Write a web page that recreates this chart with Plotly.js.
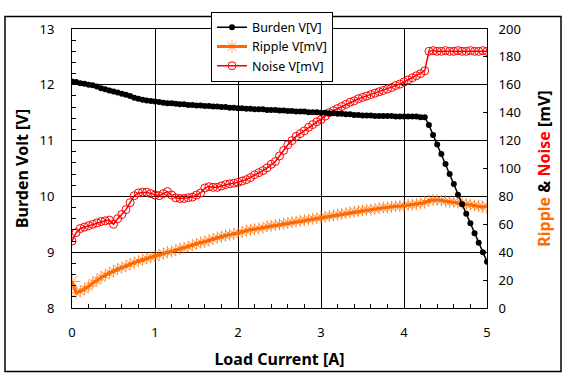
<!DOCTYPE html>
<html>
<head>
<meta charset="utf-8">
<script src="https://cdn.plot.ly/plotly-3.0.1.min.js"></script>
<style>
html,body{margin:0;padding:0;background:#fff;}
#chart{width:568px;height:380px;}
</style>
</head>
<body>
<div id="chart"></div>
<script>
// Load current [A]
const current = [
 0.00,0.05,0.10,0.15,0.20,0.25,0.30,0.35,0.40,0.45,
 0.50,0.55,0.60,0.65,0.70,0.75,0.80,0.85,0.90,0.95,
 1.00,1.05,1.10,1.15,1.20,1.25,1.30,1.35,1.40,1.45,
 1.50,1.55,1.60,1.65,1.70,1.75,1.80,1.85,1.90,1.95,
 2.00,2.05,2.10,2.15,2.20,2.25,2.30,2.35,2.40,2.45,
 2.50,2.55,2.60,2.65,2.70,2.75,2.80,2.85,2.90,2.95,
 3.00,3.05,3.10,3.15,3.20,3.25,3.30,3.35,3.40,3.45,
 3.50,3.55,3.60,3.65,3.70,3.75,3.80,3.85,3.90,3.95,
 4.00,4.05,4.10,4.15,4.20,4.25,4.30,4.35,4.40,4.45,
 4.50,4.55,4.60,4.65,4.70,4.75,4.80,4.85,4.90,4.95,
 5.00
];
// Burden voltage [V]
const burdenV = [
 12.06,12.05,12.03,12.02,12.00,11.99,11.97,11.94,11.92,11.90,
 11.88,11.86,11.84,11.82,11.80,11.77,11.75,11.73,11.72,11.71,
 11.70,11.69,11.68,11.67,11.67,11.66,11.65,11.65,11.64,11.64,
 11.63,11.63,11.62,11.62,11.61,11.61,11.60,11.60,11.59,11.59,
 11.58,11.58,11.57,11.57,11.56,11.56,11.56,11.55,11.55,11.55,
 11.54,11.54,11.53,11.53,11.52,11.52,11.52,11.51,11.51,11.51,
 11.50,11.50,11.49,11.49,11.48,11.48,11.47,11.47,11.46,11.46,
 11.45,11.45,11.45,11.44,11.44,11.44,11.44,11.44,11.43,11.43,
 11.43,11.43,11.43,11.43,11.42,11.42,11.28,11.10,10.93,10.76,
 10.58,10.40,10.22,10.03,9.86,9.69,9.52,9.34,9.17,9.00,
 8.83
];
// Ripple [mV]
const rippleMV = [
 19,11,12,13.5,15.5,18,20,22,23.5,25,
 26.5,28,29,30,31.5,32.5,33.5,34.5,35.5,36.5,
 37,38,39,40,40.5,41.5,42.5,43,44,45,
 46,47,47.5,48.5,49.5,50.5,51,52,52.5,53,
 54,54.5,55.5,56,56.5,57,57.5,58.5,59,59.5,
 60,60.5,61,61.5,62,62.5,63,63.5,64,64.5,
 65,65.5,66,66.5,67,67.5,68,68.5,69,69.5,
 70,70.5,70.5,71,71.5,72,72,72.5,73,73,
 73.5,74,74,74.5,75,75.5,77,77.5,77.5,77,
 76.5,76,76,75.5,75,74.5,74,73.5,73,72.5,
 73
];
// Noise [mV]
const noiseMV = [
 48,54,57,58,59,60,61,62,62.5,63,
 60,64,67,70.5,75.5,80.5,82.5,83,83,82,
 81,80.5,82,83.5,81,79,78.5,78.5,79,79.5,
 81,82.5,86,87,86.5,86.5,87.5,88.5,89,89.5,
 90,91,92,93.5,95.5,97,98.5,100.5,103,105,
 109,113,117,120,123,125,127,129.5,131.5,133.5,
 135,137.5,140,141.5,143,144.5,146,147.5,148.5,150,
 151,152,153,154,155,156,157,158,159.5,160.5,
 162,163.5,165,166.5,168,170,184,184.5,184,184,
 184.5,184,184,184.5,184,184,184.5,184,184,184.5,
 184
];
const seriesNames = ['Burden V[V]','Ripple V[mV]','Noise V[mV]'];

const FONT = 'Noto Sans, Open Sans, sans-serif';
const ORANGE = '#FF6A00';
const RED = '#FF0000';

const rippleSizes = rippleMV.map((v,i)=> (i===0 || i===rippleMV.length-1) ? 14 : 10);

const burden = {
  x: current, y: burdenV, name: seriesNames[0], yaxis: 'y2', type: 'scatter', mode: 'lines+markers',
  legendrank: 1, legendgroup: 'a',
  line: {color: '#000', width: 1.5},
  marker: {symbol: 'circle', size: 6, color: '#000'}
};
const ripple = {
  x: current, y: rippleMV, name: seriesNames[1], yaxis: 'y', type: 'scatter', mode: 'lines+markers',
  legendrank: 2, legendgroup: 'b',
  line: {color: ORANGE, width: 3},
  marker: {symbol: 'asterisk-open', size: rippleSizes, color: ORANGE, line: {color: ORANGE, width: 1}}
};
const noise = {
  x: current, y: noiseMV, name: seriesNames[2], yaxis: 'y', type: 'scatter', mode: 'lines+markers',
  legendrank: 3, legendgroup: 'c',
  line: {color: RED, width: 1.5},
  marker: {symbol: 'circle-open', size: 8, color: RED, line: {color: RED, width: 1}}
};
// burden drawn last (left axis is the overlay) so it sits on top
const data = [ripple, noise, burden];

const L = 72, R = 81, T = 18, B = 72;
const PW = 568 - L - R, PH = 380 - T - B;

const layout = {
  width: 568, height: 380,
  margin: {l: L, r: R, t: T, b: B, pad: 0},
  paper_bgcolor: '#fff', plot_bgcolor: '#fff',
  font: {family: FONT, size: 13, color: '#000'},
  showlegend: true,
  legend: {
    traceorder: 'normal',
    x: (211 - L) / PW, y: (380 - B - 0) / PH, xanchor: 'left', yanchor: 'top',
    bgcolor: '#fff', bordercolor: '#000', borderwidth: 1,
    font: {family: FONT, size: 12.5, color: '#000'},
    itemwidth: 30, tracegroupgap: 1
  },
  xaxis: {
    range: [0, 5], tick0: 0, dtick: 1, zeroline: false,
    showgrid: true, gridcolor: '#000', gridwidth: 1,
    showline: true, mirror: true, linecolor: '#000', linewidth: 1,
    ticks: '', ticklabelstandoff: 12,
    tickfont: {family: FONT, size: 13, color: '#000'},
    minor: {dtick: 0.2, ticks: 'inside', ticklen: 4, tickcolor: '#000', tickwidth: 1, showgrid: false},
    title: {text: '<b>Load Current [A]</b>', font: {family: FONT, size: 16, color: '#000'}, standoff: 14},
    automargin: false
  },
  yaxis: {
    side: 'right', range: [0, 200], tick0: 0, dtick: 20, zeroline: false,
    showgrid: false, showline: true, linecolor: '#000', linewidth: 1,
    ticks: 'inside', ticklen: 4, tickcolor: '#000', ticklabelstandoff: 8,
    tickfont: {family: FONT, size: 13, color: '#000'},
    title: {text: '<b><span style="color:' + ORANGE + '">Ripple</span> &amp; <span style="color:' + RED + '">Noise</span> [mV]</b>',
            font: {family: FONT, size: 16, color: '#000'}, standoff: 18},
    automargin: false
  },
  yaxis2: {
    side: 'left', overlaying: 'y', range: [8, 13], tick0: 8, dtick: 1, zeroline: false,
    showgrid: true, gridcolor: '#000', gridwidth: 1,
    showline: true, linecolor: '#000', linewidth: 1,
    ticks: '', ticklabelstandoff: 14,
    tickfont: {family: FONT, size: 13, color: '#000'},
    minor: {dtick: 0.2, ticks: 'inside', ticklen: 4, tickcolor: '#000', tickwidth: 1, showgrid: false},
    title: {text: '<b>Burden Volt [V]</b>', font: {family: FONT, size: 16, color: '#000'}, standoff: 6},
    automargin: false
  },
  shapes: [{
    type: 'rect', xref: 'paper', yref: 'paper', layer: 'above',
    x0: (5 - L) / PW, x1: (561 - L) / PW,
    y0: (380 - B - 374) / PH, y1: (380 - B - 5) / PH,
    line: {color: '#000', width: 1.5}, fillcolor: 'rgba(0,0,0,0)'
  }]
};

Plotly.newPlot('chart', data, layout, {staticPlot: true, displayModeBar: false});
</script>
</body>
</html>
